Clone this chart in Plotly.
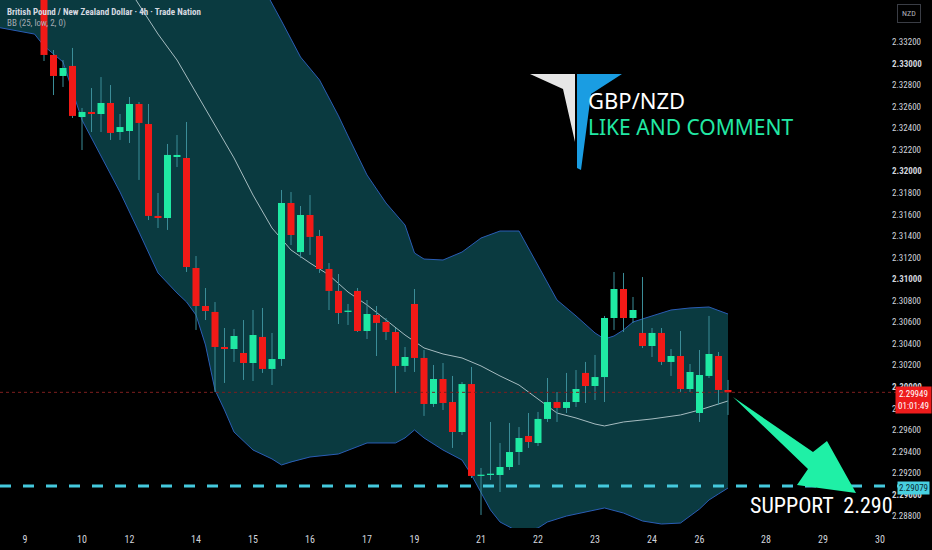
import plotly.graph_objects as go

# ---------------- data (4h candles, index = bar number from day-9 tick) ----------------
idx = list(range(2, 75))
opens = [2.33683, 2.33080, 2.32885, 2.32978, 2.32504, 2.32551, 2.32532, 2.32634, 2.32365, 2.32374,
         2.32625, 2.32439, 2.31586, 2.31567, 2.32133, 2.32124, 2.31103, 2.30750, 2.30695, 2.30370,
         2.30351, 2.30314, 2.30221, 2.30463, 2.30166, 2.30258, 2.31706, 2.31251, 2.31595, 2.31400,
         2.31094, 2.30890, 2.30695, 2.30890, 2.30518, 2.30667, 2.30602, 2.30509, 2.30194, 2.30769,
         2.30268, 2.29841, 2.30073, 2.29859, 2.29581, 2.30026, 2.29173, 2.29182, 2.29182, 2.29256,
         2.29395, 2.29544, 2.29479, 2.29702, 2.29859, 2.29804, 2.29859, 2.30129, 2.30008, 2.30091,
         2.30639, 2.30908, 2.30639, 2.30500, 2.30379, 2.30500, 2.30231, 2.30286, 2.29980, 2.29757,
         2.30101, 2.30286, 2.29971]
highs = [2.33776, 2.33126, 2.33033, 2.33145, 2.32588, 2.32773, 2.32875, 2.32801, 2.32532, 2.32690,
         2.32643, 2.32625, 2.31799, 2.32254, 2.32337, 2.32458, 2.31214, 2.30917, 2.30787, 2.30546,
         2.30537, 2.30620, 2.30713, 2.30732, 2.30500, 2.31827, 2.31808, 2.31678, 2.31780, 2.31456,
         2.31149, 2.31047, 2.30769, 2.30917, 2.30806, 2.30750, 2.30639, 2.30546, 2.30370, 2.30908,
         2.30342, 2.30203, 2.30221, 2.30101, 2.30045, 2.30184, 2.29247, 2.29674, 2.29479, 2.29665,
         2.29627, 2.29757, 2.29767, 2.30082, 2.29952, 2.30129, 2.30156, 2.30231, 2.30296, 2.30658,
         2.31066, 2.31057, 2.30834, 2.31019, 2.30546, 2.30546, 2.30351, 2.30518, 2.30212, 2.30342,
         2.30658, 2.30323, 2.30064]
lows = [2.33024, 2.32708, 2.32783, 2.32495, 2.32198, 2.32365, 2.32365, 2.32291, 2.32291, 2.32263,
        2.31920, 2.31548, 2.31474, 2.31456, 2.32040, 2.31066, 2.30528, 2.30620, 2.29952, 2.30036,
        2.30231, 2.30064, 2.30054, 2.30129, 2.30017, 2.30194, 2.31316, 2.31196, 2.31224, 2.31057,
        2.30713, 2.30583, 2.30574, 2.30509, 2.30444, 2.30286, 2.30435, 2.29943, 2.30138, 2.30138,
        2.29730, 2.29813, 2.29785, 2.29433, 2.29553, 2.29154, 2.28811, 2.29136, 2.29024, 2.29228,
        2.29275, 2.29433, 2.29451, 2.29674, 2.29674, 2.29757, 2.29813, 2.29850, 2.29878, 2.29859,
        2.30528, 2.30509, 2.30593, 2.30360, 2.30277, 2.30203, 2.30101, 2.29952, 2.29952, 2.29674,
        2.30082, 2.29832, 2.29739]
closes = [2.33080, 2.32885, 2.32959, 2.32514, 2.32551, 2.32532, 2.32634, 2.32356, 2.32411, 2.32625,
          2.32449, 2.31586, 2.31567, 2.32152, 2.32152, 2.31112, 2.30750, 2.30704, 2.30370, 2.30351,
          2.30472, 2.30221, 2.30481, 2.30166, 2.30258, 2.31706, 2.31409, 2.31595, 2.31391, 2.31094,
          2.30890, 2.30685, 2.30704, 2.30518, 2.30676, 2.30593, 2.30509, 2.30194, 2.30277, 2.30268,
          2.29841, 2.30073, 2.29850, 2.29581, 2.30026, 2.29173, 2.29182, 2.29191, 2.29256, 2.29395,
          2.29525, 2.29488, 2.29702, 2.29859, 2.29804, 2.29859, 2.29980, 2.30008, 2.30091, 2.30639,
          2.30908, 2.30639, 2.30713, 2.30379, 2.30500, 2.30231, 2.30286, 2.29980, 2.30138, 2.30110,
          2.30305, 2.29971, 2.29949]

# Bollinger Bands (25, low, 2)
upper_idx = [-3, 5, 12, 18, 22, 25.8, 27, 29, 31, 33, 34, 36, 38, 40, 41, 42, 44, 46, 48, 50, 52,
             54, 56, 58, 60, 61, 62, 63, 64, 66, 68, 70, 72, 74]
upper = [2.35050, 2.34900, 2.34600, 2.34200, 2.33900, 2.33590, 2.33395, 2.33061, 2.32848, 2.32514,
         2.32328, 2.31966, 2.31706, 2.31502, 2.31242, 2.31186, 2.31177, 2.31251, 2.31381, 2.31446,
         2.31446, 2.31131, 2.30806, 2.30658, 2.30500, 2.30444, 2.30472, 2.30528, 2.30602, 2.30658,
         2.30713, 2.30732, 2.30741, 2.30676]
lower_idx = [-3, 1, 2, 4, 6, 8, 10, 12, 14, 16, 17, 18, 19, 20, 21, 22, 24, 26, 27, 28, 30, 33, 36,
             39, 40, 41, 42, 44, 46, 47, 48, 49, 50, 52, 54, 55, 57, 59, 61, 63, 65, 67, 69, 71, 72,
             73, 74]
lower = [2.33339, 2.33274, 2.33163, 2.33015, 2.32476, 2.32142, 2.31808, 2.31437, 2.31057, 2.30871,
         2.30788, 2.30667, 2.30388, 2.29971, 2.29785, 2.29581, 2.29414, 2.29331, 2.29275, 2.29303,
         2.29349, 2.29377, 2.29479, 2.29479, 2.29526, 2.29600, 2.29526, 2.29414, 2.29321, 2.29182,
         2.29024, 2.28857, 2.28746, 2.28653, 2.28690, 2.28746, 2.28801, 2.28839, 2.28876, 2.28829,
         2.28755, 2.28727, 2.28736, 2.28866, 2.28950, 2.29006, 2.29061]
basis_idx = [-3, 5, 11, 12, 14, 16, 18, 20, 22, 24, 26, 28, 30, 32, 34, 36, 38, 40, 42, 44, 46, 48,
             50, 52, 54, 56, 58, 60, 61, 63, 66, 69, 71, 74]
basis = [2.34450, 2.34100, 2.33683, 2.33544, 2.33274, 2.33033, 2.32727, 2.32430, 2.32124, 2.31780,
         2.31474, 2.31270, 2.31149, 2.31038, 2.30880, 2.30760, 2.30620, 2.30481, 2.30361, 2.30305,
         2.30268, 2.30194, 2.30101, 2.30017, 2.29887, 2.29757, 2.29711, 2.29655, 2.29637, 2.29674,
         2.29702, 2.29739, 2.29785, 2.29869]

support_level = 2.29079
support_label = "2.29079"
last_price_label = "2.29949"
countdown = "01:01:49"

x_tick_idx = [0, 6, 11, 18, 24, 30, 36, 41, 48, 54, 60, 66, 71, 78, 84, 90]
x_tick_text = ["9", "10", "12", "14", "15", "16", "17", "19", "21", "22", "23", "24", "26", "28", "29", "30"]
y_ticks = [2.288, 2.290, 2.292, 2.294, 2.296, 2.298, 2.300, 2.302, 2.304, 2.306, 2.308, 2.310,
           2.312, 2.314, 2.316, 2.318, 2.320, 2.322, 2.324, 2.326, 2.328, 2.330, 2.332]

# ---------------- styling ----------------
W, H = 932, 550
PR, PB = 885, 528          # plot area right / bottom in pixels
GREEN = "#1fe9a3"
RED = "#f21a17"
WICK = "#3b8d98"
COND = "Liberation Sans Narrow, Roboto Condensed, Arial Narrow, Roboto, sans-serif"


def fx(px):
    return px / PR


def fy(py):
    return 1 - py / PB


def path(points):
    return "M " + " L ".join(f"{fx(a):.5f},{fy(b):.5f}" for a, b in points) + " Z"


fig = go.Figure()

# band fill
fig.add_trace(go.Scatter(x=upper_idx + lower_idx[::-1], y=upper + lower[::-1], mode="lines",
                         fill="toself", fillcolor="#0a3a40", line=dict(width=0), hoverinfo="skip"))
fig.add_trace(go.Scatter(x=upper_idx, y=upper, mode="lines", line=dict(color="#2a5db5", width=1)))
fig.add_trace(go.Scatter(x=lower_idx, y=lower, mode="lines", line=dict(color="#2a5db5", width=1)))
fig.add_trace(go.Scatter(x=basis_idx, y=basis, mode="lines", line=dict(color="#a6bcc0", width=1)))

# wicks
wx, wy = [], []
for k, h, l in zip(idx, highs, lows):
    wx += [k, k, None]
    wy += [l, h, None]
fig.add_trace(go.Scatter(x=wx, y=wy, mode="lines", line=dict(color=WICK, width=1), hoverinfo="skip"))

# bodies (thick line segments so they sit above the band fill)
MINH = 0.00012
for up, col in ((True, GREEN), (False, RED)):
    bx, by = [], []
    for k, o, c in zip(idx, opens, closes):
        if (c >= o) == up:
            lo = min(o, c)
            hi = max(max(o, c), lo + MINH)
            bx += [k, k, None]
            by += [lo, hi, None]
    fig.add_trace(go.Scatter(x=bx, y=by, mode="lines", line=dict(color=col, width=7), hoverinfo="skip"))

shapes = []
# last price dotted line
shapes.append(dict(type="line", xref="paper", x0=0, x1=1.02, yref="y", y0=closes[-1], y1=closes[-1],
                   line=dict(color="#7d1f1f", width=1, dash="dot")))
# support dashed line
shapes.append(dict(type="line", xref="paper", x0=0, x1=1.02, yref="y", y0=support_level, y1=support_level,
                   line=dict(color="#45c9dd", width=3, dash="11px,12px")))
# logo
shapes.append(dict(type="path", xref="paper", yref="paper",
                   path=path([(530, 74), (575, 74), (575, 142), (563, 89)]),
                   fillcolor="#e6e6e6", line=dict(width=0)))
shapes.append(dict(type="path", xref="paper", yref="paper",
                   path=path([(577, 74), (622, 74), (591, 94), (581, 170), (577, 168)]),
                   fillcolor="#1a9de2", line=dict(width=0)))
# arrow
shapes.append(dict(type="path", xref="paper", yref="paper",
                   path=path([(733, 397), (813, 452), (827, 441), (856, 493), (797, 485), (808, 469)]),
                   fillcolor="#1ff0a6", line=dict(width=0)))

ann = []
ann.append(dict(xref="paper", yref="paper", x=fx(5), y=fy(12), xanchor="left", yanchor="middle",
                text="<b>British Pound / New Zealand Dollar · 4h · Trade Nation</b>",
                showarrow=False, font=dict(family=COND, size=9, color="#d6d9e0")))
ann.append(dict(xref="paper", yref="paper", x=fx(5), y=fy(24), xanchor="left", yanchor="middle",
                text="BB (25, low, 2, 0)", showarrow=False, font=dict(family=COND, size=9, color="#a8abb3")))
ann.append(dict(xref="paper", yref="paper", x=fx(586), y=fy(100), xanchor="left", yanchor="middle",
                text="GBP/NZD", showarrow=False, font=dict(family="Noto Sans", size=22, color="#ffffff")))
ann.append(dict(xref="paper", yref="paper", x=fx(586), y=fy(127), xanchor="left", yanchor="middle",
                text="LIKE AND COMMENT", showarrow=False, font=dict(family="Noto Sans", size=21, color="#22e8a4")))
ann.append(dict(xref="paper", yref="paper", x=fx(748), y=fy(505), xanchor="left", yanchor="middle",
                text="SUPPORT  2.290", showarrow=False, font=dict(family=COND, size=22, color="#ffffff")))
# price scale labels
ann.append(dict(xref="paper", yref="paper", x=fx(909), y=fy(13), xanchor="center", yanchor="middle",
                text="NZD", showarrow=False, bgcolor="#000000", bordercolor="#3a3d45", borderwidth=1,
                borderpad=4, font=dict(family=COND, size=8, color="#b0b3ba")))
ann.append(dict(xref="paper", yref="paper", x=fx(913), y=fy(400), xanchor="center", yanchor="middle",
                text=last_price_label + "<br>" + countdown, showarrow=False, bgcolor="#ee1c1c",
                borderpad=2, font=dict(family=COND, size=9, color="#ffffff")))
ann.append(dict(xref="paper", yref="paper", x=fx(913), y=fy(488), xanchor="center", yanchor="middle",
                text=support_label, showarrow=False, bgcolor="#48d0e0",
                borderpad=1, font=dict(family=COND, size=9, color="#0b2a30")))

tick_text = []
for v in y_ticks:
    s = f"{v:.5f}"
    if abs(v * 100 - round(v * 100)) < 1e-6:
        s = f"<b>{s}</b>"
    tick_text.append(s)

fig.update_layout(
    width=W, height=H, margin=dict(l=0, r=W - PR, t=0, b=H - PB),
    paper_bgcolor="#000000", plot_bgcolor="#000000",
    showlegend=False,
    shapes=shapes, annotations=ann,
    xaxis=dict(range=[-25 / 9.5, (PR - 25) / 9.5], tickvals=x_tick_idx, ticktext=x_tick_text,
               showgrid=False, zeroline=False, showline=False, ticks="",
               tickfont=dict(family=COND, size=10, color="#d1d4dc"), ticklabelstandoff=4),
    yaxis=dict(range=[2.28690, 2.33590], side="right", tickvals=y_ticks, ticktext=tick_text,
               showgrid=False, zeroline=False, showline=False, ticks="",
               tickfont=dict(family=COND, size=9, color="#d1d4dc"), ticklabelstandoff=6),
)

fig.write_html("out.html", config={"displayModeBar": False},
               post_script="document.body.style.margin='0';document.body.style.background='#000';")
